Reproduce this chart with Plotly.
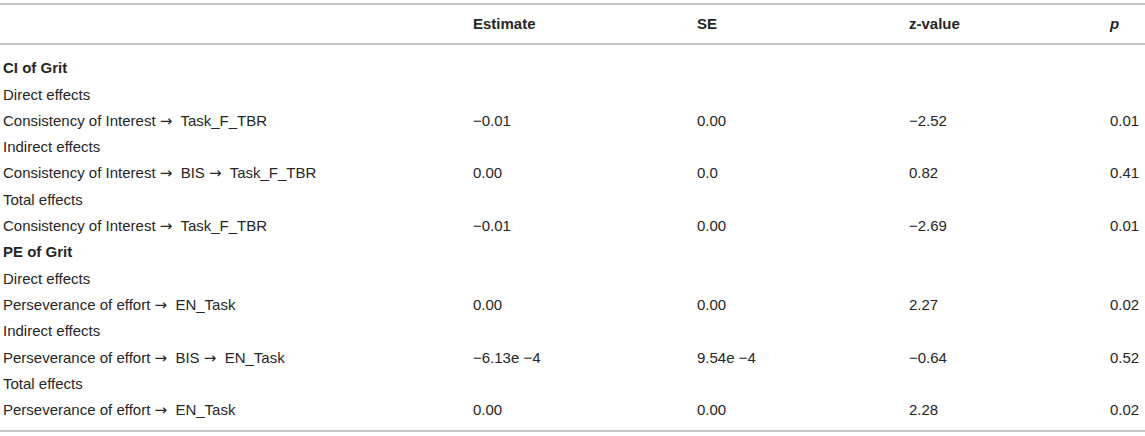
import plotly.graph_objects as go

# table content
ARR = "<span style='font-family:DejaVu Sans'>→</span>\u00a0 "
headers = ["", "<b>Estimate</b>", "<b>SE</b>", "<b>z-value</b>", "<b><i>p</i></b>"]
labels = ["<b>CI of Grit</b>", "Direct effects",
          "Consistency of Interest " + ARR + "Task_F_TBR", "Indirect effects",
          "Consistency of Interest " + ARR + "BIS " + ARR + "Task_F_TBR",
          "Total effects",
          "Consistency of Interest " + ARR + "Task_F_TBR",
          "<b>PE of Grit</b>", "Direct effects",
          "Perseverance of effort " + ARR + "EN_Task", "Indirect effects",
          "Perseverance of effort " + ARR + "BIS " + ARR + "EN_Task",
          "Total effects",
          "Perseverance of effort " + ARR + "EN_Task"]
estimate = ["", "", "−0.01", "", "0.00", "", "−0.01",
            "", "", "0.00", "", "−6.13e −4", "", "0.00"]
se = ["", "", "0.00", "", "0.0", "", "0.00",
      "", "", "0.00", "", "9.54e −4", "", "0.00"]
zvalue = ["", "", "−2.52", "", "0.82", "", "−2.69",
          "", "", "2.27", "", "−0.64", "", "2.28"]
pvalue = ["", "", "0.01", "", "0.41", "", "0.01",
          "", "", "0.02", "", "0.52", "", "0.02"]

# layout in pixels
col_x = [3, 473, 697, 909, 1110]
header_y = 25.5
row0_y = 69.5
row_h = 26.3
font = dict(family="Liberation Sans, Arial, sans-serif", size=15, color="#262626")
line_col = "#c4c4c4"

rows_y = [row0_y + i * row_h for i in range(len(labels))]
columns = [labels, estimate, se, zvalue, pvalue]

fig = go.Figure()
for cx, head, col in zip(col_x, headers, columns):
    fig.add_trace(go.Scatter(x=[cx] * (len(col) + 1), y=[header_y] + rows_y,
                             text=[head] + col, mode="text",
                             textposition="middle right", textfont=font,
                             cliponaxis=False,
                             hoverinfo="skip", showlegend=False))

for ly in [4, 44, 431]:
    fig.add_shape(type="line", x0=0, x1=1145, y0=ly, y1=ly,
                  line=dict(color=line_col, width=2))

fig.update_layout(width=1145, height=436, margin=dict(l=0, r=0, t=0, b=0),
                  plot_bgcolor="white", paper_bgcolor="white",
                  xaxis=dict(range=[0, 1145], visible=False, fixedrange=True),
                  yaxis=dict(range=[436, 0], visible=False, fixedrange=True))
fig.write_html("out.html", config={"displayModeBar": False},
               post_script="document.body.style.margin='0';"
                           "document.body.style.overflow='hidden';")
